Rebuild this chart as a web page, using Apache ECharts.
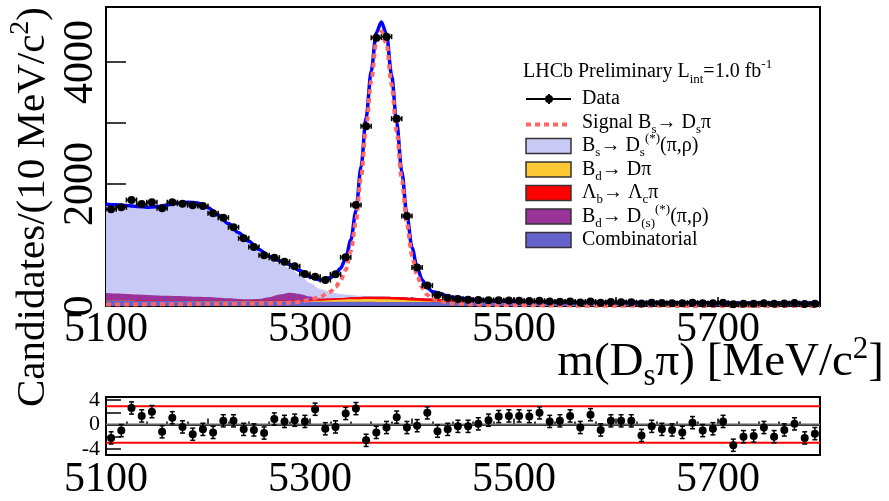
<!DOCTYPE html>
<html>
<head>
<meta charset="utf-8">
<script src="https://cdn.jsdelivr.net/npm/echarts@6/dist/echarts.min.js"></script>
<style>
  html, body { margin: 0; padding: 0; background: #fff; }
  #chart { width: 889px; height: 501px; }
</style>
</head>
<body>
<div id="chart"></div>
<script>
// Centres des bins de 10 MeV/c2 et nombre de candidats
const binCenters = [
  5105, 5115, 5125, 5135, 5145, 5155, 5165, 5175, 5185, 5195,
  5205, 5215, 5225, 5235, 5245, 5255, 5265, 5275, 5285, 5295,
  5305, 5315, 5325, 5335, 5345, 5355, 5365, 5375, 5385, 5395,
  5405, 5415, 5425, 5435, 5445, 5455, 5465, 5475, 5485, 5495,
  5505, 5515, 5525, 5535, 5545, 5555, 5565, 5575, 5585, 5595,
  5605, 5615, 5625, 5635, 5645, 5655, 5665, 5675, 5685, 5695,
  5705, 5715, 5725, 5735, 5745, 5755, 5765, 5775, 5785, 5795
];
const counts = [
  1585, 1617, 1737, 1672, 1700, 1601, 1700, 1677, 1650, 1639,
  1519, 1448, 1290, 1109, 967, 831, 792, 726, 650, 524,
  481, 426, 519, 798, 1655, 2945, 4398, 4414, 3070, 1475,
  630, 336, 182, 136, 115, 101, 98, 96, 95, 90,
  87, 83, 86, 72, 70, 74, 58, 74, 53, 64,
  63, 62, 43, 53, 49, 47, 44, 55, 45, 47,
  55, 27, 37, 37, 46, 35, 42, 48, 32, 37
];
// Pulls du panneau du bas
const pulls = [
  -2.2, -1.0, 2.7, 1.4, 2.1, -1.2, 1.1, -0.4, -1.6, -0.8,
  -1.3, 0.6, 0.6, -0.8, -0.9, -1.4, 0.9, 0.5, 0.7, 0.5,
  2.5, -0.7, -0.4, 1.8, 2.6, -2.6, -1.3, -0.5, 1.2, -0.5,
  -0.2, 1.9, -1.1, -0.8, -0.3, -0.3, 0.1, 0.7, 1.3, 1.4,
  1.4, 1.3, 1.9, 0.5, 0.6, 1.4, -0.5, 1.6, -0.9, 0.6,
  0.6, 0.6, -1.8, -0.3, -0.8, -0.9, -1.3, 0.3, -1.0, -0.7,
  0.5, -3.4, -2.0, -1.9, -0.5, -2.0, -0.9, 0.1, -2.2, -1.5
];
const pullLevels = [-3, 0, 3];

// Composantes du fit, échantillonnées sur curveX
const curveX = [
  5100, 5110, 5120, 5130, 5140, 5150, 5160, 5170, 5180, 5190, 5200, 5210,
  5220, 5230, 5240, 5250, 5260, 5270, 5280, 5290, 5300, 5310, 5320,
  5325, 5330, 5335, 5340, 5345, 5350, 5355, 5360, 5365, 5370,
  5375, 5380, 5385, 5390, 5395, 5400, 5405, 5410, 5415, 5420,
  5440, 5460, 5480, 5500, 5520, 5540, 5560, 5580, 5600, 5620,
  5640, 5660, 5680, 5700, 5720, 5740, 5760, 5780, 5800
];
const signal = [
  25, 25, 26, 26, 27, 28, 28, 29, 30, 31, 32, 33,
  34, 35, 37, 40, 43, 46, 52, 65, 100, 150, 235,
  310, 420, 590, 900, 1382, 2110, 2920, 3690, 4320, 4500,
  4300, 3630, 2860, 2060, 1350, 820, 500, 300, 180, 116,
  40, 24, 18, 14, 11, 8, 6, 5, 4, 3,
  3, 2, 2, 2, 2, 1, 1, 1, 1
];
const bsDsStar = [
  1432, 1430, 1423, 1416, 1412, 1426, 1459, 1493, 1513, 1507, 1431, 1321,
  1189, 1049, 912, 770, 630, 507, 412, 318, 221, 154, 106,
  85, 66, 50, 38, 28, 20, 14, 9, 6, 4,
  2, 1, 0, 0, 0, 0, 0, 0, 0, 0,
  0, 0, 0, 0, 0, 0, 0, 0, 0, 0,
  0, 0, 0, 0, 0, 0, 0, 0, 0
];
const bdDpi = [
  0, 0, 0, 0, 0, 0, 0, 0, 0, 0, 0, 0,
  0, 0, 0, 0, 0, 0, 0, 3, 8, 15, 25,
  29, 33, 37, 40, 42, 44, 45, 45, 45, 44,
  42, 40, 37, 34, 30, 26, 22, 18, 14, 11,
  4, 1, 0, 0, 0, 0, 0, 0, 0, 0,
  0, 0, 0, 0, 0, 0, 0, 0, 0
];
const lbLcPi = [
  6, 6, 6, 6, 7, 7, 7, 8, 8, 8, 9, 9,
  10, 10, 11, 12, 13, 14, 15, 17, 20, 23, 26,
  28, 30, 31, 33, 35, 36, 37, 39, 40, 41,
  42, 43, 44, 44, 45, 45, 45, 45, 44, 44,
  38, 20, 6, 1, 0, 0, 0, 0, 0, 0,
  0, 0, 0, 0, 0, 0, 0, 0, 0
];
const bdDsX = [
  120, 113, 106, 99, 92, 86, 80, 75, 70, 65, 60, 50,
  40, 30, 25, 28, 55, 100, 128, 105, 55, 15, 3,
  0, 0, 0, 0, 0, 0, 0, 0, 0, 0,
  0, 0, 0, 0, 0, 0, 0, 0, 0, 0,
  0, 0, 0, 0, 0, 0, 0, 0, 0, 0,
  0, 0, 0, 0, 0, 0, 0, 0, 0
];
const combinatorial = [
  85, 84, 84, 83, 82, 81, 81, 80, 79, 79, 78, 77,
  77, 76, 75, 75, 74, 73, 73, 72, 71, 71, 70,
  70, 69, 69, 69, 68, 68, 68, 68, 67, 67,
  67, 66, 66, 66, 66, 65, 65, 65, 64, 64,
  63, 62, 61, 60, 59, 58, 57, 56, 55, 54,
  53, 52, 51, 50, 49, 48, 48, 47, 46
];

const xTickLabels = [5100, 5300, 5500, 5700];
const yTickLabels = [0, 2000, 4000];
const pullTickLabels = [-4, 0, 4];

const FONT = 'Liberation Serif';
const colors = {
  bs: '#c9c9f6',
  bdDpi: '#fcc934',
  lb: '#ff0000',
  bdDs: '#993399',
  comb: '#6464cc'
};

// Empilement cumulatif (comme dans ROOT : chaque aire part de 0)
const stYel = combinatorial.map((v, i) => v + bdDpi[i]);
const stRed = stYel.map((v, i) => v + lbLcPi[i]);
const stPurple = stRed.map((v, i) => v + bdDsX[i]);
const stBs = stPurple.map((v, i) => v + bsDsStar[i]);
const total = stBs.map((v, i) => v + signal[i]);
const pairs = arr => curveX.map((x, i) => [x, arr[i]]);

function areaSeries(name, arr, color) {
  return {
    name, type: 'line', data: pairs(arr), smooth: 0.3, smoothMonotone: 'x',
    symbol: 'none', silent: true, z: 1,
    lineStyle: { width: 0 }, areaStyle: { color, opacity: 1 }
  };
}

function renderCounts(params, api) {
  const x = api.value(0), n = api.value(1), err = Math.sqrt(n);
  const c = api.coord([x, n]);
  const xl = api.coord([x - 5, n])[0], xr = api.coord([x + 5, n])[0];
  const yt = api.coord([x, n + err])[1], yb = api.coord([x, n - err])[1];
  const s = { stroke: '#000', lineWidth: 1.5 };
  return { type: 'group', children: [
    { type: 'line', shape: { x1: xl, y1: c[1], x2: xr, y2: c[1] }, style: s },
    { type: 'line', shape: { x1: xl, y1: c[1] - 2.5, x2: xl, y2: c[1] + 2.5 }, style: s },
    { type: 'line', shape: { x1: xr, y1: c[1] - 2.5, x2: xr, y2: c[1] + 2.5 }, style: s },
    { type: 'line', shape: { x1: c[0], y1: yt, x2: c[0], y2: yb }, style: s },
    { type: 'circle', shape: { cx: c[0], cy: c[1], r: 4 }, style: { fill: '#000' } }
  ]};
}

function renderPulls(params, api) {
  const x = api.value(0), p = api.value(1);
  const c = api.coord([x, p]);
  const yt = api.coord([x, p + 1])[1], yb = api.coord([x, p - 1])[1];
  const s = { stroke: '#000', lineWidth: 1.5 };
  return { type: 'group', children: [
    { type: 'line', shape: { x1: c[0], y1: yt, x2: c[0], y2: yb }, style: s },
    { type: 'line', shape: { x1: c[0] - 2.5, y1: yt, x2: c[0] + 2.5, y2: yt }, style: s },
    { type: 'line', shape: { x1: c[0] - 2.5, y1: yb, x2: c[0] + 2.5, y2: yb }, style: s },
    { type: 'circle', shape: { cx: c[0], cy: c[1], r: 4 }, style: { fill: '#000' } }
  ]};
}

const richSmall = size => ({
  sub: { fontFamily: FONT, fontSize: size, lineHeight: size, verticalAlign: 'bottom', fill: '#000' },
  sup: { fontFamily: FONT, fontSize: size, lineHeight: size, verticalAlign: 'top', fill: '#000' }
});

// --- Légende (dessinée à la main pour les indices / exposants) ---
const legendRows = [
  { text: 'Data', kind: 'data' },
  { text: 'Signal B{sub|s}→ D{sub|s}π', kind: 'dash' },
  { text: 'B{sub|s}→ D{sub|s}{sup|(*)}(π,ρ)', kind: 'box', color: colors.bs },
  { text: 'B{sub|d}→ Dπ', kind: 'box', color: colors.bdDpi },
  { text: 'Λ{sub|b}→ Λ{sub|c}π', kind: 'box', color: colors.lb },
  { text: 'B{sub|d}→ D{sub|(s)}{sup|(*)}(π,ρ)', kind: 'box', color: colors.bdDs },
  { text: 'Combinatorial', kind: 'box', color: colors.comb }
];
const legendGraphics = [{
  type: 'text', x: 523, y: 72,
  style: { text: 'LHCb Preliminary L{sub|int}=1.0 fb{sup|-1}', fontFamily: FONT, fontSize: 20,
    lineHeight: 28, fill: '#000', align: 'left', verticalAlign: 'middle', rich: richSmall(13) }
}];
legendRows.forEach((row, k) => {
  const y = 99 + 23.5 * k;
  if (row.kind === 'data') {
    legendGraphics.push({ type: 'line', shape: { x1: 526, y1: y, x2: 571, y2: y }, style: { stroke: '#000', lineWidth: 2 } });
    legendGraphics.push({ type: 'line', shape: { x1: 549, y1: y - 5, x2: 549, y2: y + 5 }, style: { stroke: '#000', lineWidth: 2 } });
    legendGraphics.push({ type: 'circle', shape: { cx: 549, cy: y, r: 4 }, style: { fill: '#000' } });
  } else if (row.kind === 'dash') {
    legendGraphics.push({ type: 'line', shape: { x1: 526, y1: y + 2, x2: 571, y2: y + 2 },
      style: { stroke: '#ff6666', lineWidth: 4, lineDash: [5, 4] } });
  } else {
    legendGraphics.push({ type: 'rect', shape: { x: 526, y: y - 7.5, width: 45, height: 15 },
      style: { fill: row.color, stroke: '#333', lineWidth: 1.5 } });
  }
  legendGraphics.push({
    type: 'text', x: 582, y: y,
    style: { text: row.text, fontFamily: FONT, fontSize: 20, lineHeight: 27, fill: '#000',
      align: 'left', verticalAlign: 'middle', rich: richSmall(13) }
  });
});

const titleGraphics = [
  {
    type: 'text', x: 33, y: 207, rotation: Math.PI / 2,
    style: { text: 'Candidates/(10 MeV/c{sup|2})', fontFamily: FONT, fontSize: 41, lineHeight: 52,
      fill: '#000', align: 'center', verticalAlign: 'middle', rich: richSmall(28) }
  },
  {
    type: 'text', x: 884, y: 363,
    style: { text: 'm(D{sub|s}π) [MeV/c{sup|2}]', fontFamily: FONT, fontSize: 47, lineHeight: 58,
      fill: '#000', align: 'right', verticalAlign: 'middle', rich: richSmall(31) }
  }
];

const axisText = size => ({ fontFamily: FONT, fontSize: size, color: '#000' });

const chart = echarts.init(document.getElementById('chart'), null, { renderer: 'canvas' });
chart.setOption({
  animation: false,
  backgroundColor: '#fff',
  grid: [
    { left: 106, top: 7, width: 714, height: 299, show: true, borderColor: '#000', borderWidth: 2, backgroundColor: 'transparent' },
    { left: 106, top: 397, width: 714, height: 67, show: true, borderColor: '#000', borderWidth: 2, backgroundColor: 'transparent' }
  ],
  xAxis: [
    {
      type: 'value', gridIndex: 0, min: 5100, max: 5800, interval: 100,
      axisLine: { show: true, lineStyle: { color: '#000', width: 2 } },
      axisTick: { inside: true, length: 9, lineStyle: { color: '#000', width: 1.5 } },
      minorTick: { show: true, splitNumber: 5, length: 4, lineStyle: { color: '#000', width: 1.5 } },
      splitLine: { show: false },
      axisLabel: { ...axisText(42), margin: 3,
        formatter: v => xTickLabels.includes(v) ? String(v) : '' }
    },
    {
      type: 'value', gridIndex: 1, min: 5100, max: 5800, interval: 100,
      axisLine: { show: true, lineStyle: { color: '#000', width: 2 } },
      axisTick: { inside: true, length: 6, lineStyle: { color: '#000', width: 1.5 } },
      minorTick: { show: true, splitNumber: 5, length: 3, lineStyle: { color: '#000', width: 1.5 } },
      splitLine: { show: false },
      axisLabel: { ...axisText(42), margin: 4,
        formatter: v => xTickLabels.includes(v) ? String(v) : '' }
    }
  ],
  yAxis: [
    {
      type: 'value', gridIndex: 0, min: 0, max: 4900, interval: 1000,
      axisLine: { show: true, lineStyle: { color: '#000', width: 2 } },
      axisTick: { inside: true, length: 20, lineStyle: { color: '#000', width: 1.5 } },
      splitLine: { show: false },
      axisLabel: { ...axisText(42), rotate: 90, margin: 4,
        formatter: v => yTickLabels.includes(v) ? String(v) : '' }
    },
    {
      type: 'value', gridIndex: 1, min: -5, max: 4.5,
      axisLine: { show: true, lineStyle: { color: '#000', width: 2 } },
      axisTick: { inside: true, length: 15, customValues: [-4, -2, 0, 2, 4], lineStyle: { color: '#000', width: 1.5 } },
      splitLine: { show: false },
      axisLabel: { ...axisText(22), margin: 6, customValues: pullTickLabels }
    }
  ],
  graphic: titleGraphics.concat(legendGraphics),
  series: [
    areaSeries('Bs->Ds*(pi,rho)', stBs, colors.bs),
    areaSeries('Bd->D(s)*(pi,rho)', stPurple, colors.bdDs),
    areaSeries('Lb->Lc pi', stRed, colors.lb),
    areaSeries('Bd->D pi', stYel, colors.bdDpi),
    areaSeries('Combinatorial', combinatorial, colors.comb),
    {
      name: 'Total', type: 'line', data: pairs(total), smooth: 0.3, smoothMonotone: 'x',
      symbol: 'none', silent: true, z: 3, lineStyle: { color: '#0000ff', width: 3.5 }
    },
    {
      name: 'Signal', type: 'line', data: pairs(signal), smooth: 0.3, smoothMonotone: 'x',
      symbol: 'none', silent: true, z: 4, lineStyle: { color: '#ff6666', width: 4, type: [5, 4] }
    },
    {
      name: 'Data', type: 'custom', z: 5, silent: true,
      data: binCenters.map((x, i) => [x, counts[i]]),
      encode: { x: 0, y: 1 }, renderItem: renderCounts
    },
    ...pullLevels.map(level => ({
      type: 'line', xAxisIndex: 1, yAxisIndex: 1, silent: true, symbol: 'none', z: 2,
      data: [[5100, level], [5800, level]],
      lineStyle: { color: level === 0 ? '#666666' : '#ff0000', width: 2 }
    })),
    {
      name: 'Pulls', type: 'custom', xAxisIndex: 1, yAxisIndex: 1, z: 5, silent: true,
      data: binCenters.map((x, i) => [x, pulls[i]]),
      encode: { x: 0, y: 1 }, renderItem: renderPulls
    }
  ]
});
</script>
</body>
</html>
